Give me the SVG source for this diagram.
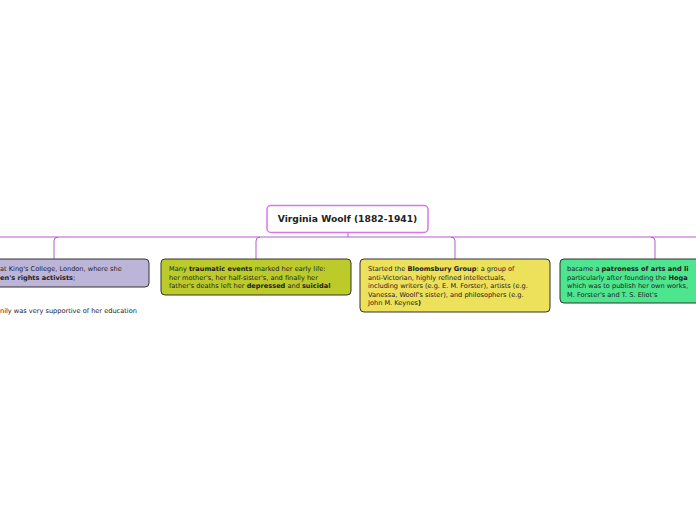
<svg xmlns="http://www.w3.org/2000/svg" width="696" height="520" viewBox="0 0 696 520">
<style>
text{font-family:"DejaVu Sans",Verdana,sans-serif;font-size:6.6px;fill:#222}
.b{font-weight:bold}
.box{stroke:#333;stroke-width:1}
.c{fill:none;stroke:#b55cc8;stroke-width:1}
</style>
<rect width="696" height="520" fill="#fff"/>
<g id="connectors">
<path class="c" d="M348 232V237M0 237H696"/>
<path class="c" d="M54 259V241Q54 237 58 237M256 259V241Q256 237 260 237M455 259V241Q455 237 451 237M655 259V241Q655 237 651 237"/>
</g>
<g id="root">
<rect x="267" y="205.5" width="161" height="27" rx="4" fill="#fff" stroke="#d878e8" stroke-width="1.5"/>
<text x="347.5" y="222" text-anchor="middle" class="b" style="font-size:9.2px">Virginia Woolf (1882-1941)</text>
</g>
<g id="n1">
<rect class="box" x="-20" y="259" width="169" height="28" rx="4" fill="#bdb5d8"/>
<text x="0" y="271">at King's College, London, where she</text>
<text x="0" y="280"><tspan class="b">en's rights activists</tspan>;</text>
<text x="0" y="313">nily was very supportive of her education</text>
</g>
<g id="n2">
<rect class="box" x="161" y="259" width="190" height="36" rx="4" fill="#bccb2a"/>
<text x="169" y="271">Many <tspan class="b">traumatic events</tspan> marked her early life:</text>
<text x="169" y="279.5">her mother's, her half-sister's, and finally her</text>
<text x="169" y="288">father's deaths left her <tspan class="b">depressed</tspan> and <tspan class="b">suicidal</tspan></text>
</g>
<g id="n3">
<rect class="box" x="360" y="259" width="190" height="53" rx="4" fill="#ede05a"/>
<text x="368" y="271">Started the <tspan class="b">Bloomsbury Group</tspan>: a group of</text>
<text x="368" y="279.5">anti-Victorian, highly refined intellectuals,</text>
<text x="368" y="288">including writers (e.g. E. M. Forster), artists (e.g.</text>
<text x="368" y="296.5">Vanessa, Woolf's sister), and philosophers (e.g.</text>
<text x="368" y="305">John M. Keynes<tspan class="b">)</tspan></text>
</g>
<g id="n4">
<rect class="box" x="560" y="259" width="150" height="44" rx="4" fill="#4de58e"/>
<text x="567" y="271">bacame a <tspan class="b">patroness of arts and li</tspan></text>
<text x="567" y="279.5">particularly after founding the <tspan class="b">Hoga</tspan></text>
<text x="567" y="288">which was to publish her own works,</text>
<text x="567" y="296.5">M. Forster's and T. S. Eliot's</text>
</g>
</svg>
